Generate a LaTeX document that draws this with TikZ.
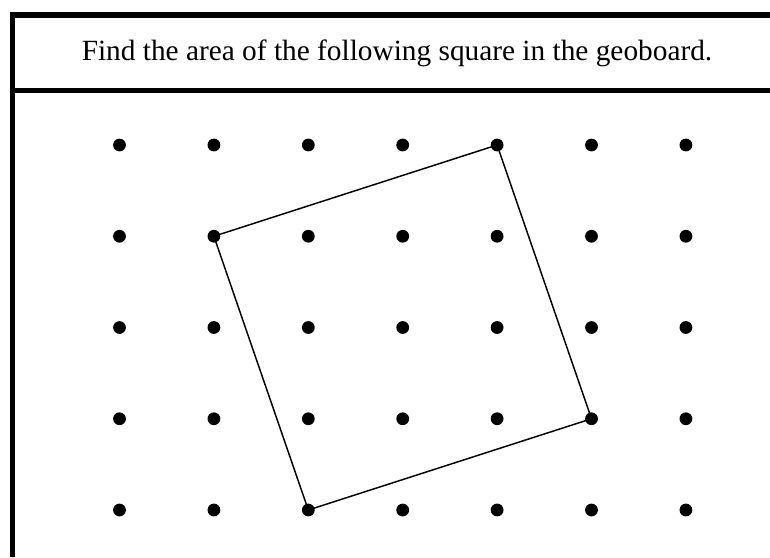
\documentclass[tikz,border=0pt]{standalone}
\usepackage{fontspec}
\setmainfont{Liberation Serif}
\usepackage{tikz}
\usetikzlibrary{positioning,calc}

\begin{document}
\begin{tikzpicture}[x=0.75pt,y=-0.75pt,
    frame/.style={line width=3.8pt},
    peg/.style={circle,fill=black,inner sep=0pt,minimum size=9.6pt},
    side/.style={line width=1.1pt,line join=round}]
  \useasboundingbox (0,0) rectangle (770,557);
  % frame and header
  \draw[frame] (12.5,557) -- (12.5,15) -- (770,15);
  \draw[frame] (10,90.5) -- (770,90.5);
  \node[font=\fontsize{22}{25}\selectfont] (title) at (397,53) {Find the area of the following square in the geoboard.};
  % pegs
  \foreach \i in {0,...,6}
    \foreach \j in {0,...,4}
      \node[peg] (p-\i-\j) at ({119.5+94.4*\i},{145+91.25*\j}) {};
  % the square
  \draw[side] (p-4-0.center) -- (p-1-1.center) -- (p-2-4.center) -- (p-5-3.center) -- cycle;
\end{tikzpicture}
\end{document}
